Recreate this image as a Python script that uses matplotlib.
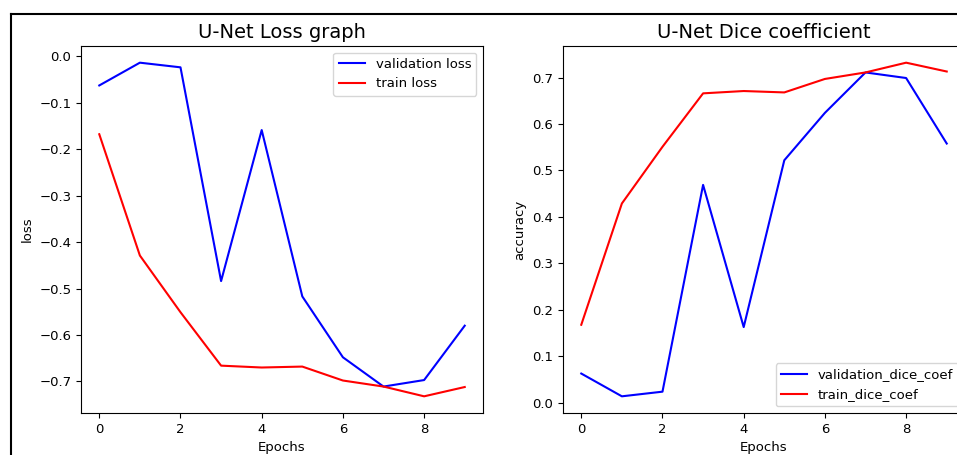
import matplotlib
matplotlib.use("Agg")
import matplotlib.pyplot as plt
from matplotlib.lines import Line2D

epochs = [0, 1, 2, 3, 4, 5, 6, 7, 8, 9]
val_loss = [-0.063, -0.014, -0.024, -0.484, -0.159, -0.517, -0.648, -0.711, -0.697, -0.580]
train_loss = [-0.168, -0.429, -0.551, -0.666, -0.670, -0.668, -0.698, -0.711, -0.732, -0.712]
val_dice = [0.063, 0.014, 0.024, 0.469, 0.163, 0.522, 0.624, 0.711, 0.699, 0.558]
train_dice = [0.168, 0.429, 0.551, 0.666, 0.671, 0.668, 0.697, 0.711, 0.732, 0.713]

W, H = 957, 455
fig = plt.figure(figsize=(W / 100, H / 100), dpi=100)

fs = 9.5
ax1 = fig.add_axes([81 / W, 1 - 413 / H, 402 / W, 367 / H])
ax2 = fig.add_axes([563 / W, 1 - 413 / H, 402 / W, 367 / H])

ax1.plot(epochs, val_loss, color='blue', label='validation loss')
ax1.plot(epochs, train_loss, color='red', label='train loss')
ax1.set_title('U-Net Loss graph', fontsize=14)
ax1.set_xlabel('Epochs', fontsize=fs)
ax1.set_ylabel('loss', fontsize=fs)
ax1.legend(loc='upper right', fontsize=fs)
ax1.tick_params(labelsize=fs)

ax2.plot(epochs, val_dice, color='blue', label='validation_dice_coef')
ax2.plot(epochs, train_dice, color='red', label='train_dice_coef')
ax2.set_title('U-Net Dice coefficient', fontsize=14)
ax2.set_xlabel('Epochs', fontsize=fs)
ax2.set_ylabel('accuracy', fontsize=fs)
ax2.legend(loc='lower right', fontsize=fs)
ax2.tick_params(labelsize=fs)

# screenshot border
fig.add_artist(Line2D([11 / W, 1], [1 - 14 / H, 1 - 14 / H], transform=fig.transFigure, color='black', lw=1.5))
fig.add_artist(Line2D([11 / W, 11 / W], [0, 1 - 14 / H], transform=fig.transFigure, color='black', lw=1.5))

fig.savefig('out.png', dpi=100)
